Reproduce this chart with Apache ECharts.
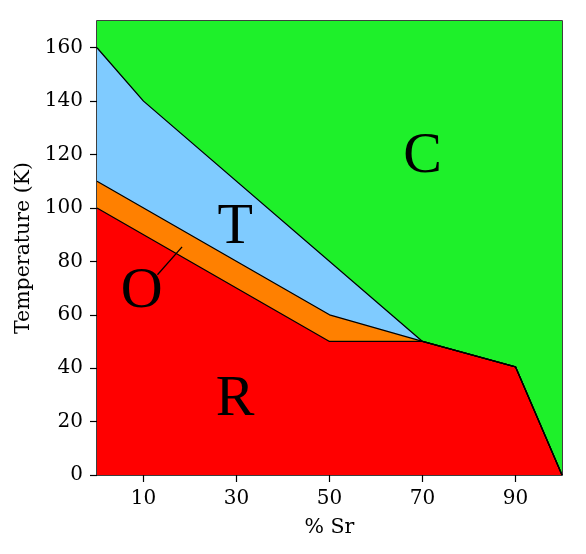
<!DOCTYPE html>
<html>
<head>
<meta charset="utf-8">
<script src="https://cdn.jsdelivr.net/npm/echarts@6/dist/echarts.min.js"></script>
<style>
  html, body { margin: 0; padding: 0; background: #fff; }
  #chart { width: 586px; height: 554px; }
</style>
</head>
<body>
<div id="chart"></div>
<script>
// phase boundaries, [% Sr, T (K)]
const cubicTop = [[0, 170], [100, 170]]
const tetraLine = [[0, 160], [10, 140], [70, 50], [90, 40.5], [100, 0]]
const orthoLine = [[0, 110], [50, 60], [70, 50], [90, 40.5], [100, 0]]
const rhombLine = [[0, 100], [50, 50], [70, 50], [90, 40.5], [100, 0]]
const oLeader = [[18.3, 85.4], [13.0, 75.0]]

// phase labels: [x, y, text]
const phaseLabels = [
  [70, 119, "C"],
  [29.7, 92.5, "T"],
  [9.6, 68.5, "O"],
  [29.7, 28, "R"],
]

const xTicks = [10, 30, 50, 70, 90]
const yTicks = [0, 20, 40, 60, 80, 100, 120, 140, 160]

const chart = echarts.init(document.getElementById("chart"))

const area = (data, color) => ({
  type: "line",
  data,
  symbol: "none",
  silent: true,
  lineStyle: { color: "#000", width: 1.3 },
  areaStyle: { color, opacity: 1, origin: "start" },
})

const tickFont = { fontFamily: "DejaVu Serif", fontSize: 20, color: "#000" }
const nameFont = { fontFamily: "DejaVu Serif", fontSize: 20.5, color: "#000" }

chart.setOption({
  animation: false,
  grid: { left: 97, right: 24, top: 21, bottom: 79, show: true, borderColor: "#000", borderWidth: 1.5 },
  xAxis: {
    type: "value",
    min: 0,
    max: 100,
    name: "% Sr",
    nameLocation: "middle",
    nameGap: 42,
    nameTextStyle: nameFont,
    axisLine: { show: false },
    axisTick: { show: true, customValues: xTicks, length: 7, lineStyle: { color: "#000", width: 1.2 } },
    axisLabel: { customValues: xTicks, margin: 14, ...tickFont },
    splitLine: { show: false },
  },
  yAxis: {
    type: "value",
    min: 0,
    max: 170,
    name: "Temperature (K)",
    nameLocation: "middle",
    nameGap: 63,
    nameTextStyle: nameFont,
    axisLine: { show: false },
    axisTick: { show: true, customValues: yTicks, length: 7, lineStyle: { color: "#000", width: 1.2 } },
    axisLabel: { customValues: yTicks, margin: 14, ...tickFont },
    splitLine: { show: false },
  },
  series: [
    { ...area(cubicTop, "#1ef02a"), lineStyle: { width: 0 } },
    area(tetraLine, "#7fcbff"),
    area(orthoLine, "#ff8000"),
    area(rhombLine, "#ff0000"),
    {
      type: "line",
      data: oLeader,
      symbol: "none",
      silent: true,
      lineStyle: { color: "#000", width: 1.3 },
    },
    {
      type: "custom",
      data: phaseLabels,
      silent: true,
      z: 10,
      renderItem: (params, api) => {
        const pt = api.coord([api.value(0), api.value(1)])
        return {
          type: "text",
          x: pt[0],
          y: pt[1],
          style: {
            text: phaseLabels[params.dataIndex][2],
            fill: "#000",
            font: "58px 'Liberation Serif'",
            align: "center",
            verticalAlign: "middle",
          },
        }
      },
    },
  ],
})
</script>
</body>
</html>
